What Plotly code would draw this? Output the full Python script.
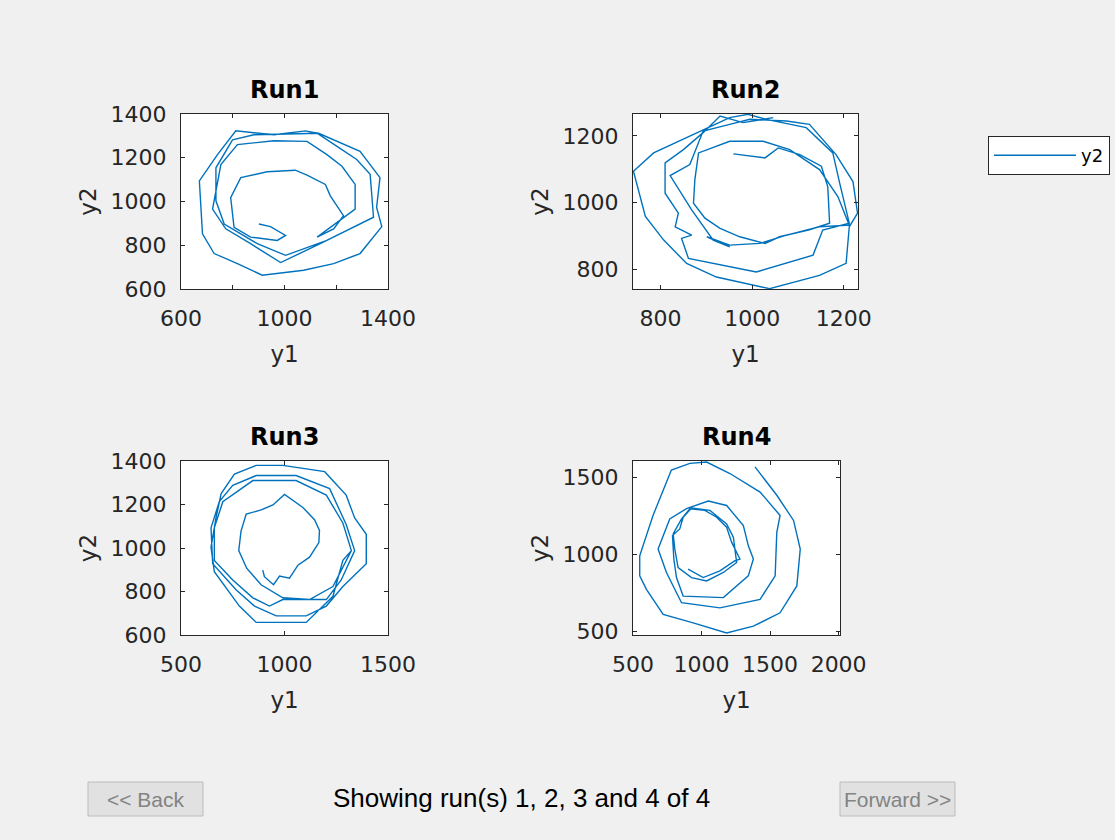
import plotly.graph_objects as go

# ---------------- data ----------------
run_names = ["Run1", "Run2", "Run3", "Run4"]

run1_y1 = [901, 946, 1004, 972, 869, 805, 792, 831, 933, 1042, 1087, 1158, 1177, 1228, 1190, 1126,
           1273, 1273, 1222, 1164, 1087, 959, 818, 754, 722, 773, 869, 985, 1138, 1344, 1331, 1279,
           1203, 1126, 1081, 959, 812, 741, 671, 683, 728, 818, 914, 1074, 1190, 1292, 1376, 1356,
           1369, 1292, 1132, 882, 799, 735, 735, 767, 895, 1004, 1164]
run1_y2 = [897, 885, 845, 822, 837, 882, 1018, 1109, 1136, 1143, 1121, 1078, 1026, 935, 875, 837,
           965, 1078, 1161, 1214, 1275, 1278, 1260, 1169, 965, 875, 807, 721, 807, 928, 1124, 1192,
           1252, 1312, 1323, 1305, 1323, 1214, 1094, 852, 762, 716, 663, 686, 716, 762, 885, 973,
           1109, 1229, 1312, 1305, 1282, 1154, 1003, 897, 807, 754, 822]

run2_y1 = [959, 1028, 1057, 1104, 1151, 1165, 1169, 1125, 1060, 1028, 973, 930, 897, 872, 875, 883,
           951, 1024, 1082, 1147, 1187, 1212, 1147, 1075, 1017, 951, 901, 951, 915, 868, 821, 864,
           893, 951, 995, 1075, 1125, 1183, 1220, 1230, 1212, 1205, 1147, 1038, 922, 857, 807, 767,
           741, 785, 886, 951, 991, 1031, 1118, 1176, 1191, 1212, 1154, 1133, 1009, 861, 846, 868,
           832, 839, 810, 810, 850, 893, 930, 980, 1046]
run2_y2 = [1146, 1134, 1164, 1144, 1109, 1048, 938, 918, 897, 877, 897, 922, 953, 998, 1069, 1149,
           1184, 1184, 1159, 1099, 1018, 932, 927, 902, 877, 872, 897, 867, 887, 978, 1081, 1114,
           1215, 1235, 1250, 1245, 1235, 1144, 1063, 968, 927, 817, 781, 741, 776, 817, 887, 958,
           1094, 1149, 1215, 1255, 1265, 1250, 1225, 1149, 1058, 938, 917, 842, 791, 832, 892, 902,
           927, 968, 1028, 1119, 1159, 1210, 1260, 1240, 1255]

run3_y1 = [895, 903, 947, 976, 1024, 1065, 1121, 1166, 1169, 1145, 1089, 1000, 944, 887, 815, 790,
           779, 818, 887, 992, 1121, 1234, 1323, 1282, 1202, 1056, 847, 702, 661, 661, 750, 847,
           927, 992, 1202, 1274, 1339, 1298, 1218, 1056, 863, 750, 685, 645, 653, 766, 855, 960,
           1105, 1202, 1282, 1395, 1395, 1339, 1298, 1194, 992, 863, 758, 694, 669, 645, 661, 782,
           863, 1105, 1234, 1282, 1323]
run3_y2 = [898, 868, 831, 871, 861, 921, 958, 1025, 1081, 1130, 1186, 1246, 1198, 1175, 1156, 1078,
           988, 906, 831, 771, 763, 823, 988, 1115, 1243, 1310, 1310, 1213, 1093, 943, 853, 771,
           733, 763, 763, 853, 988, 1108, 1273, 1333, 1333, 1288, 1213, 1093, 928, 808, 733, 688,
           688, 733, 823, 928, 1063, 1138, 1243, 1351, 1380, 1380, 1340, 1250, 1138, 1003, 891, 733,
           658, 658, 778, 943, 988]

run4_y1 = [902, 1012, 1134, 1244, 1280, 1220, 1183, 1110, 1024, 915, 854, 793, 805, 829, 927, 1037,
           1159, 1256, 1232, 1183, 1061, 927, 866, 841, 788, 798, 817, 866, 1159, 1341, 1378, 1341,
           1305, 1183, 1049, 890, 768, 683, 744, 793, 854, 1134, 1427, 1537, 1549, 1573, 1427, 1207,
           1037, 915, 780, 646, 549, 549, 598, 720, 939, 1183, 1378, 1573, 1695, 1720, 1671, 1549,
           1390]
run4_y2 = [904, 850, 893, 959, 970, 1078, 1176, 1241, 1285, 1296, 1230, 1133, 1035, 915, 850, 828,
           883, 948, 1111, 1198, 1285, 1300, 1241, 1165, 1122, 970, 850, 730, 720, 861, 970, 1057,
           1187, 1317, 1346, 1296, 1230, 1035, 883, 796, 687, 654, 709, 861, 1143, 1252, 1404, 1524,
           1598, 1590, 1546, 1252, 991, 861, 774, 611, 557, 491, 535, 622, 796, 1035, 1220, 1383,
           1567]

x_ranges = [[600, 1400], [740, 1231], [500, 1500], [500, 2010]]
y_ranges = [[600, 1400], [740, 1266], [600, 1400], [478, 1605]]
x_tickvals = [[600, 800, 1000, 1200, 1400], [800, 1000, 1200], [500, 1000, 1500], [500, 1000, 1500, 2000]]
x_ticktext = [["600", "", "1000", "", "1400"], ["800", "1000", "1200"], ["500", "1000", "1500"],
              ["500", "1000", "1500", "2000"]]
y_tickvals = [[600, 800, 1000, 1200, 1400], [800, 1000, 1200], [600, 800, 1000, 1200, 1400], [500, 1000, 1500]]

status_text = "Showing run(s) 1, 2, 3 and 4 of 4"
back_label = "<< Back"
forward_label = "Forward >>"
legend_label = "y2"
x_label = "y1"
y_label = "y2"

# ---------------- layout helpers ----------------
W, H = 1115, 840
def fx(p):
    return p / W
def fy(p):
    return 1 - p / H

# axes boxes in pixels: (left, right, top, bottom)
boxes = [(181, 388, 114, 289), (633, 858, 114, 289), (181, 388, 461, 635), (633, 840, 461, 635)]

xs_all = [run1_y1, run2_y1, run3_y1, run4_y1]
ys_all = [run1_y2, run2_y2, run3_y2, run4_y2]

FONT = "DejaVu Sans"
AX = "#262626"
LINE = "#0072BD"

fig = go.Figure()
for i in range(4):
    sfx = "" if i == 0 else str(i + 1)
    fig.add_trace(go.Scatter(
        x=xs_all[i], y=ys_all[i], mode="lines",
        line=dict(color=LINE, width=1.4),
        name=legend_label, legendgroup="y2", showlegend=(i == 0),
        xaxis="x" + sfx, yaxis="y" + sfx, hoverinfo="skip"))

layout = dict(
    width=W, height=H, autosize=False,
    paper_bgcolor="#f0f0f0", plot_bgcolor="#ffffff",
    margin=dict(l=0, r=0, t=0, b=0, pad=0, autoexpand=False),
    font=dict(family=FONT, color=AX),
    showlegend=True,
    legend=dict(x=fx(988), y=fy(136), xanchor="left", yanchor="top",
                bgcolor="#ffffff", bordercolor=AX, borderwidth=1,
                font=dict(family=FONT, size=18, color="#000000"),
                itemwidth=82, tracegroupgap=0),
)

common = dict(showgrid=False, zeroline=False, showline=True, linecolor=AX, linewidth=1,
              mirror="ticks", ticks="inside", ticklen=4, tickcolor=AX, tickwidth=1,
              tickfont=dict(family=FONT, size=22, color=AX), fixedrange=True, automargin=False)

annotations = []
shapes = []
for i in range(4):
    sfx = "" if i == 0 else str(i + 1)
    l, r, t, b = boxes[i]
    xa = dict(common)
    xa.update(domain=[fx(l), fx(r)], range=x_ranges[i], tickmode="array",
              tickvals=x_tickvals[i], ticktext=x_ticktext[i],
              anchor="y" + sfx, ticklabelstandoff=10,
              title=dict(text=x_label, font=dict(family=FONT, size=23, color=AX), standoff=15))
    ya = dict(common)
    ya.update(domain=[fy(b), fy(t)], range=y_ranges[i], tickmode="array",
              tickvals=y_tickvals[i], anchor="x" + sfx, ticklabelstandoff=9,
              title=dict(text=y_label, font=dict(family=FONT, size=23, color=AX), standoff=7))
    layout["xaxis" + sfx] = xa
    layout["yaxis" + sfx] = ya
    annotations.append(dict(text="<b>%s</b>" % run_names[i], x=fx((l + r) / 2), y=fy(t - 8),
                            xref="paper", yref="paper", xanchor="center", yanchor="bottom",
                            showarrow=False, font=dict(family=FONT, size=24, color="#000000")))

# bottom controls
for (l, r, label) in [(88, 203, back_label), (840, 955, forward_label)]:
    shapes.append(dict(type="rect", xref="paper", yref="paper", x0=fx(l), x1=fx(r), y0=fy(816), y1=fy(782),
                       fillcolor="#e1e1e1", line=dict(color="#bcbcbc", width=1), layer="below"))
    annotations.append(dict(text=label, x=fx((l + r) / 2), y=fy(799), xref="paper", yref="paper",
                            xanchor="center", yanchor="middle", showarrow=False,
                            font=dict(family="Liberation Sans", size=21, color="#838383")))
annotations.append(dict(text=status_text, x=fx(521), y=fy(798), xref="paper", yref="paper",
                        xanchor="center", yanchor="middle", showarrow=False,
                        font=dict(family="Liberation Sans", size=26, color="#000000")))

layout["annotations"] = annotations
layout["shapes"] = shapes
fig.update_layout(**layout)
fig.write_html("out.html", config={"displayModeBar": False},
               post_script="document.body.style.margin='0';")
